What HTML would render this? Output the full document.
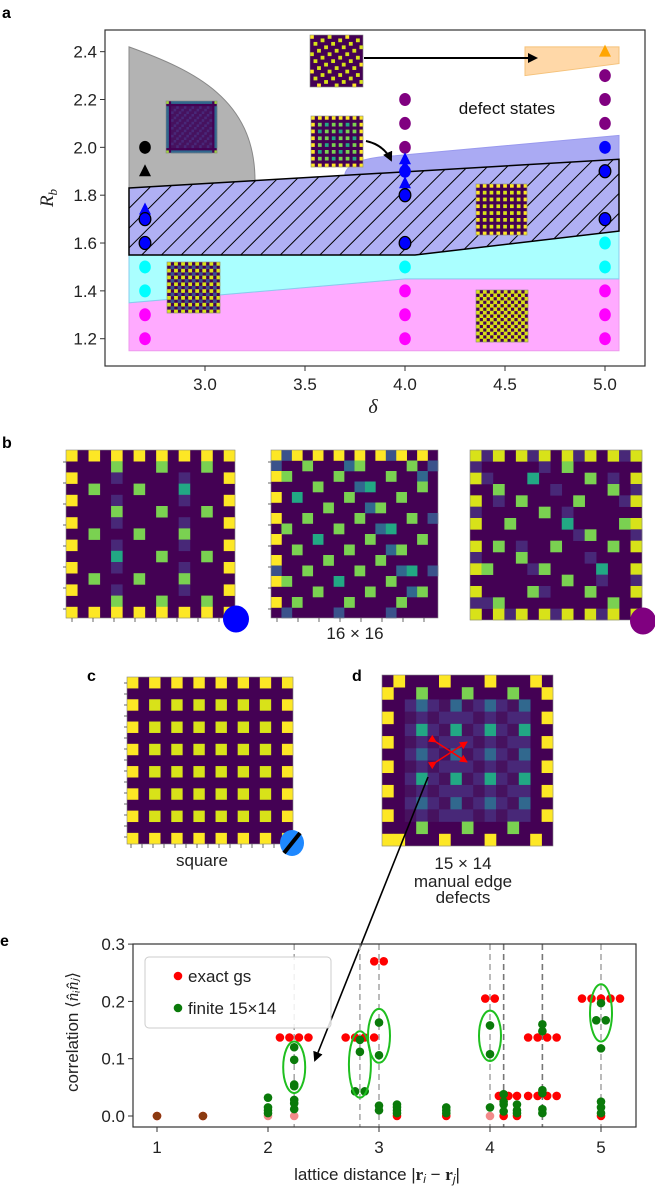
<!DOCTYPE html>
<html><head><meta charset="utf-8"><style>
body{margin:0;background:#fff;}
svg{display:block;font-family:"Liberation Sans",sans-serif;}
</style></head><body>
<svg id="fig" width="655" height="1187" viewBox="0 0 655 1187">
<defs>
<pattern id="hatch" width="14" height="14" patternUnits="userSpaceOnUse" patternTransform="rotate(45)">
<rect width="14" height="14" fill="#b0b0f4"/><line x1="0" y1="0" x2="0" y2="14" stroke="#000" stroke-width="2"/></pattern>
<marker id="ah" markerWidth="10" markerHeight="10" refX="8" refY="5" orient="auto" markerUnits="userSpaceOnUse"><path d="M0,0 L10,5 L0,10 Z" fill="#000"/></marker>
<marker id="ahr" markerWidth="8" markerHeight="8" refX="7" refY="4" orient="auto" markerUnits="userSpaceOnUse"><path d="M0,0 L8,4 L0,8 Z" fill="#f00"/></marker>
</defs>
<g id="pa"></g>
<g id="pb"></g>
<g id="pe"></g>
</svg>
<script>
// ---------- panel a data ----------
const aXTicks=[3.0,3.5,4.0,4.5,5.0];
const aYTicks=[1.2,1.4,1.6,1.8,2.0,2.2,2.4];
const ptDelta=[2.7,2.7,2.7,2.7,2.7,2.7,2.7,2.7,2.7, 4,4,4,4,4,4,4,4,4,4,4,4,4, 5,5,5,5,5,5,5,5,5,5,5,5];
const ptRb=[2.0,1.9,1.74,1.7,1.6,1.5,1.4,1.3,1.2, 2.2,2.1,2.0,1.95,1.92,1.9,1.85,1.8,1.6,1.5,1.4,1.3,1.2, 2.4,2.3,2.2,2.1,2.0,1.9,1.7,1.6,1.5,1.4,1.3,1.2];
const ptKind=['k','kt','bt','be','be','c','c','m','m', 'p','p','p','bt','bt','b','bt','be','be','c','m','m','m', 'ot','p','p','p','b','be','be','c','c','m','m','m'];
// ---------- panel e data ----------
const eXTicks=[1,2,3,4,5];
const eYTicks=[0.0,0.1,0.2,0.3];
const exactD=[1,1.414,2,2.236,2.236,2.236,2.236,2.236,2.828,2.828,2.828,2.828,3,3,3.162,3.606,4,4,4,4.123,4.123,4.123,4.243,4.243,4.472,4.472,4.472,4.472,4.472,4.472,4.472,4.472,5,5,5,5,5,5];
const exactC=[0,0,0,0.137,0.137,0.137,0.137,0,0.137,0.137,0.137,0.137,0.27,0.27,0,0,0.205,0.205,0,0.035,0.035,0,0.035,0,0.137,0.137,0.137,0.137,0.035,0.035,0.035,0.035,0.205,0.205,0.205,0.205,0.205,0];
const finD=[1,1.414,2,2,2,2,2.236,2.236,2.236,2.236,2.236,2.236,2.236,2.828,2.828,2.828,2.828,3,3,3,3,3.162,3.162,3.162,3.162,3.606,3.606,3.606,4,4,4,4.123,4.123,4.123,4.123,4.243,4.243,4.243,4.472,4.472,4.472,4.472,4.472,4.472,5,5,5,5,5,5,5];
const finC=[0,0,0.032,0.015,0.01,0.005,0.12,0.098,0.055,0.052,0.028,0.022,0.012,0.133,0.112,0.043,0.043,0.163,0.106,0.018,0.01,0.02,0.015,0.01,0.005,0.015,0.01,0.005,0.158,0.108,0.015,0.038,0.025,0.02,0.008,0.02,0.01,0.005,0.16,0.148,0.045,0.04,0.012,0.005,0.197,0.167,0.167,0.118,0.025,0.015,0.005];
const vlines=[2.236,2.828,3,4,4.123,4.472,5];
const ellD=[2.236,2.828,3,4,5];
const ellC=[0.085,0.09,0.14,0.14,0.18];
const ellR=[0.045,0.058,0.047,0.044,0.05];

const NS='http://www.w3.org/2000/svg';
function mk(p,t,a){const e=document.createElementNS(NS,t);for(const k in a)e.setAttribute(k,a[k]);p.appendChild(e);return e;}
function txt(p,x,y,s,size,anchor,extra){const e=mk(p,'text',Object.assign({x:x,y:y,'font-size':size,'text-anchor':anchor||'middle',fill:'#222'},extra||{}));e.textContent=s;return e;}

// ---------- lattice images ----------
const VC={d:'#440154',d2:'#46125f',d3:'#482878',b:'#3b528b',b2:'#31688e',t:'#21918c',t2:'#22a884',g:'#7ad151',g2:'#a0da39',y:'#fde725',y2:'#d8e219'};
function lattice(p,name,x,y,w,h,nx,ny,f){
  const g=mk(p,'g',{});
  
  
  mk(g,'rect',{x:x,y:y,width:w,height:h,fill:VC.d});
  const cw=w/nx,ch=h/ny;
  for(let j=0;j<ny;j++)for(let i=0;i<nx;i++){const c=f(i,j,nx,ny);if(c&&c!==VC.d)mk(g,'rect',{x:x+i*cw,y:y+j*ch,width:cw+0.3,height:ch+0.3,fill:c});}
  mk(g,'rect',{x:x,y:y,width:w,height:h,fill:'none',stroke:'#888','stroke-width':0.6});
  return g;
}
function edge(i,j,nx,ny){return (i==0||i==nx-1||j==0||j==ny-1)&&(i%2==0)&&(j%2==0);}
const sq=(i,j)=> (i%2==0&&j%2==0)?(edge(i,j,15,15)?VC.y:VC.y2):VC.d;
const stripe=(i,j)=>{if(edge(i,j,15,15))return VC.y;if(i==0||j==0||i==14||j==14)return VC.d;
  if(i%2==0&&j%2==1&&((i/2+(j-1)/2)%2==0))return (i==4||i==10)&&j%6==3?VC.t2:VC.g;
  if((i==4||i==10)&&j%2==0)return VC.d3; return VC.d;};
const defect=(i,j)=>{if(edge(i,j,16,16))return VC.y;if(i==0||j==0||i==15||j==15)return ((i+j)%5==1)?VC.b:VC.d;
  if((i+2*j)%5==0)return ((i*7+j)%6==0)?VC.t2:VC.g; if((i*3+j*5)%13==0)return VC.b2; return VC.d;};
const ring=(i,j)=>{if(edge(i,j,15,15))return VC.y2;if(i==0||j==0||i==14||j==14)return ((i+j)%4==1)?VC.d3:VC.d;
  if((i+3*j)%5==1&&(i*j)%2==0)return ((i+j)%7==0)?VC.t2:VC.g; if((i*5+j*3)%11==0)return VC.d3; return VC.d;};
const checker=(i,j)=>(i+j)%2==0?VC.y2:VC.d;
const tri=(i,j)=>((i+2*j)%5==0)?(edge(i,j,15,15)?VC.y:VC.y2):VC.d;
const gframe=(i,j,nx,ny)=>{const e=(i==0||j==0||i==nx-1||j==ny-1);if(e&&(i==0||i==nx-1)&&(j==0||j==ny-1))return VC.g2;
  if(i==1||j==1||i==nx-2||j==ny-2)return VC.d;if(e)return VC.b2;return ((i+j)%3==0)?VC.d3:VC.d2;};
const dpat=(i,j)=>{if((i==0||i==14)&&j%2==1&&j<13)return VC.y;if((j==0||j==13)&&i%4==1)return VC.y;if(j==13&&i==0)return VC.y;
  if((j==1||j==12)&&i%4==3)return VC.g;
  if(i>1&&i<13&&j>1&&j<12){if(i%3==0&&j%2==0)return (j%4==0)?VC.t2:VC.b2; if(i%3==0)return VC.d3; if((i+j)%2==0)return VC.d3; return VC.d2;}
  return VC.d;};

// ---------- PANEL A ----------
(function(){
const g=document.getElementById('pa');
const X=d=>205+(d-3)*200, Y=r=>338.7-(r-1.2)*239.2;
txt(g,2,18,'a',16,'start',{'font-weight':'bold',fill:'#000'});
const P=(pts)=>pts.map(p=>X(p[0]).toFixed(1)+','+Y(p[1]).toFixed(1)).join(' ');
let e;
e=mk(g,'path',{d:`M${X(2.62)},${Y(1.83)} L${X(2.62)},${Y(2.42)} C${X(2.95)},${Y(2.32)} ${X(3.25)},${Y(2.2)} ${X(3.25)},${Y(1.86)} L${X(3.25)},${Y(1.83)} Z`,fill:'#b3b3b3',stroke:'#888','stroke-width':1});

e=mk(g,'path',{d:`M${X(3.7)},${Y(1.84)} L${X(3.7)},${Y(1.89)} Q${X(3.72)},${Y(1.955)} ${X(3.95)},${Y(1.965)} L${X(5.07)},${Y(2.05)} L${X(5.07)},${Y(1.95)} Z`,fill:'#aaaaf3',stroke:'#9999ee','stroke-width':1});

e=mk(g,'polygon',{points:P([[2.62,1.35],[4.0,1.45],[5.07,1.45],[5.07,1.15],[2.62,1.15]]),fill:'#ffaaff',stroke:'#ee99ee','stroke-width':1});

e=mk(g,'polygon',{points:P([[2.62,1.55],[4.05,1.55],[5.07,1.65],[5.07,1.45],[4.0,1.45],[2.62,1.35]]),fill:'#aaffff',stroke:'#88ccee','stroke-width':1});

e=mk(g,'polygon',{points:P([[2.62,1.83],[5.07,1.95],[5.07,1.65],[4.05,1.55],[2.62,1.55]]),fill:'url(#hatch)',stroke:'#000','stroke-width':1.5});

e=mk(g,'polygon',{points:P([[4.6,2.42],[5.07,2.42],[5.07,2.35],[4.6,2.30]]),fill:'#ffd8a8',stroke:'#f5c27a','stroke-width':1});

// insets
lattice(g,'inset-defect-top',310,35,53,52,15,15,tri);
lattice(g,'inset-defect-mid',311,116,52,51,15,15,(i,j)=>(i%2==0&&j%2==0)?(edge(i,j,15,15)?VC.y:((i+j)%6==0?VC.t2:VC.g)):VC.d);
lattice(g,'inset-gray',166,101,51,52,20,20,gframe);
lattice(g,'inset-cyan',167,262,53,51,15,15,(i,j)=>(i%2==0&&j%2==0)?VC.y2:(((i+j)%2==0)?VC.b:VC.d));
lattice(g,'inset-stripe',476,184,51,51,15,15,sq);
lattice(g,'inset-checker',476,290,52,52,15,15,checker);
// arrows
e=mk(g,'line',{x1:364,y1:58,x2:536,y2:58,stroke:'#000','stroke-width':2,'marker-end':'url(#ah)'});
e=mk(g,'path',{d:'M366,141 Q384,145 391,160',fill:'none',stroke:'#000','stroke-width':2,'marker-end':'url(#ah)'});
txt(g,507,114,'defect states',17,'middle',{fill:'#111'});
// points
const col={k:'#000',kt:'#000',b:'#0000ff',bt:'#0000ff',be:'#0000ff',c:'#00ffff',m:'#ff00ff',p:'#800080',ot:'#ffa500'};
for(let i=0;i<ptDelta.length;i++){
  const k=ptKind[i],cx=X(ptDelta[i]),cy=Y(ptRb[i]);let m;
  if(k.endsWith('t')){m=mk(g,'polygon',{points:`${cx-6},${cy+5} ${cx+6},${cy+5} ${cx},${cy-7}`,fill:col[k]});}
  else{m=mk(g,'ellipse',{cx:cx,cy:cy,rx:5.8,ry:6.5,fill:col[k],stroke:k=='be'?'#000':'none','stroke-width':1.3});}
  
  
}
// frame & ticks
e=mk(g,'rect',{x:105,y:30,width:540,height:336,fill:'none',stroke:'#333','stroke-width':1.2});
aXTicks.forEach(v=>{mk(g,'line',{x1:X(v),y1:366,x2:X(v),y2:371,stroke:'#333'});const t=txt(g,X(v),390,v.toFixed(1),17);});
aYTicks.forEach(v=>{mk(g,'line',{x1:100,y1:Y(v),x2:105,y2:Y(v),stroke:'#333'});const t=txt(g,97,Y(v)+6,v.toFixed(1),17,'end');});
e=txt(g,373,413,'δ',20,'middle',{'font-style':'italic','font-family':'Liberation Serif,serif'});
e=mk(g,'text',{x:0,y:0,'font-size':19,'text-anchor':'middle','font-family':'Liberation Serif,serif','font-style':'italic',fill:'#222',transform:'translate(53,198) rotate(-90)'});
e.innerHTML='R<tspan font-size="13" dy="4">b</tspan>';
})();

// ---------- PANELS B, C, D ----------
(function(){
const g=document.getElementById('pb');let e;
txt(g,2,448,'b',16,'start',{'font-weight':'bold',fill:'#000'});
lattice(g,'lattice-b-blue',66,450,169,168,15,15,stripe);
lattice(g,'lattice-b-16x16',271,450,167,168,16,16,defect);
lattice(g,'lattice-b-purple',470,450,172,170,15,15,ring);
[66,271].forEach(x0=>{for(let k=0;k<8;k++){mk(g,'line',{x1:x0-3,y1:462+k*21,x2:x0,y2:462+k*21,stroke:'#444','stroke-width':0.8});mk(g,'line',{x1:x0+6+k*21,y1:618,x2:x0+6+k*21,y2:622,stroke:'#444','stroke-width':0.8});}});
e=mk(g,'ellipse',{cx:236,cy:619,rx:13,ry:13.5,fill:'#0000ff'});
e=mk(g,'ellipse',{cx:643,cy:621,rx:13,ry:13.5,fill:'#800080'});
txt(g,355,639,'16 × 16',17);
txt(g,87,681,'c',16,'start',{'font-weight':'bold',fill:'#000'});
lattice(g,'lattice-c-square',127,677,166,167,15,15,sq);
for(let k=0;k<15;k++){mk(g,'line',{x1:124,y1:683+k*11,x2:127,y2:683+k*11,stroke:'#444','stroke-width':0.8});mk(g,'line',{x1:131+k*11,y1:844,x2:131+k*11,y2:848,stroke:'#444','stroke-width':0.8});}
e=mk(g,'ellipse',{cx:292,cy:843,rx:12,ry:13,fill:'#1e88ff'});
mk(g,'line',{x1:284,y1:853,x2:300,y2:833,stroke:'#000','stroke-width':4});
txt(g,202,866,'square',17);
txt(g,352,681,'d',16,'start',{'font-weight':'bold',fill:'#000'});
lattice(g,'lattice-d-15x14',382,675,171,171,15,14,dpat);
mk(g,'line',{x1:436,y1:742,x2:467,y2:762,stroke:'#f00','stroke-width':1.5,'marker-start':'url(#ahr)','marker-end':'url(#ahr)'});
mk(g,'line',{x1:436,y1:762,x2:467,y2:742,stroke:'#f00','stroke-width':1.5,'marker-start':'url(#ahr)','marker-end':'url(#ahr)'});
txt(g,463,869,'15 × 14',17);
txt(g,463,887,'manual edge',17);
txt(g,463,903,'defects',17);
e=mk(g,'line',{x1:428,y1:777,x2:315,y2:1060,stroke:'#000','stroke-width':1.6,'marker-end':'url(#ah)'});
})();

// ---------- PANEL E ----------
(function(){
const g=document.getElementById('pe');let e;
const X=d=>157+(d-1)*111, Y=v=>1116-v*573;
txt(g,0,946,'e',16,'start',{'font-weight':'bold',fill:'#000'});
vlines.forEach((v,i)=>{e=mk(g,'line',{x1:X(v),y1:944,x2:X(v),y2:1127,stroke:(i==4||i==5)?'#777':'#aaa','stroke-width':1.6,'stroke-dasharray':'6,4'});});
function spread(ds,cs){const seen={},cnt={};ds.forEach((d,i)=>{const k=d+'_'+cs[i];cnt[k]=(cnt[k]||0)+1;});return ds.map((d,i)=>{const k=d+'_'+cs[i];seen[k]=(seen[k]||0);const o=(seen[k]-(cnt[k]-1)/2)*9.5;seen[k]++;return o;});}
const eo=spread(exactD,exactC);
exactD.forEach((d,i)=>{const faded=exactC[i]==0&&(d==2||d==2.236||d==4);const c=mk(g,'circle',{cx:X(d)+eo[i],cy:Y(exactC[i]),r:4.3,fill:faded?'#f28a8a':'#f00'});});
const fo=spread(finD,finC);
finD.forEach((d,i)=>{const c=mk(g,'circle',{cx:X(d)+fo[i],cy:Y(finC[i]),r:4.3,fill:d<1.5?'#8b3a10':'#0a7a0a'});});
ellD.forEach((d,i)=>{const el=mk(g,'ellipse',{cx:X(d),cy:Y(ellC[i]),rx:11,ry:ellR[i]*573,fill:'none',stroke:'#1fbf1f','stroke-width':2});});
e=mk(g,'rect',{x:133,y:944,width:503,height:183,fill:'none',stroke:'#333','stroke-width':1.2});
eXTicks.forEach(v=>{mk(g,'line',{x1:X(v),y1:1127,x2:X(v),y2:1132,stroke:'#333'});const t=txt(g,X(v),1153,String(v),17);});
eYTicks.forEach(v=>{mk(g,'line',{x1:128,y1:Y(v),x2:133,y2:Y(v),stroke:'#333'});const t=txt(g,125,Y(v)+6,v.toFixed(1),17,'end');});
// legend
e=mk(g,'rect',{x:145,y:957,width:186,height:71,rx:4,fill:'rgba(255,255,255,0.85)',stroke:'#ccc'});
mk(g,'circle',{cx:178,cy:976,r:4.3,fill:'#f00'});
txt(g,188,982,'exact gs',17,'start');
mk(g,'circle',{cx:178,cy:1008,r:4.3,fill:'#0a7a0a'});
txt(g,188,1014,'finite 15×14',17,'start');
e=mk(g,'text',{x:0,y:0,'font-size':17,'text-anchor':'middle',fill:'#222',transform:'translate(78,1032) rotate(-90)'});
e.innerHTML='correlation ⟨<tspan font-style="italic" font-family="Liberation Serif,serif">n̂ᵢn̂ⱼ</tspan>⟩';
e=mk(g,'text',{x:377,y:1180,'font-size':17,'text-anchor':'middle',fill:'#222'});
e.innerHTML='lattice distance |<tspan font-weight="bold" font-family="Liberation Serif,serif">r</tspan><tspan font-size="12" dy="3" font-style="italic">i</tspan><tspan dy="-3"> − </tspan><tspan font-weight="bold" font-family="Liberation Serif,serif">r</tspan><tspan font-size="12" dy="3" font-style="italic">j</tspan><tspan dy="-3">|</tspan>';

})();
</script>
</body></html>
